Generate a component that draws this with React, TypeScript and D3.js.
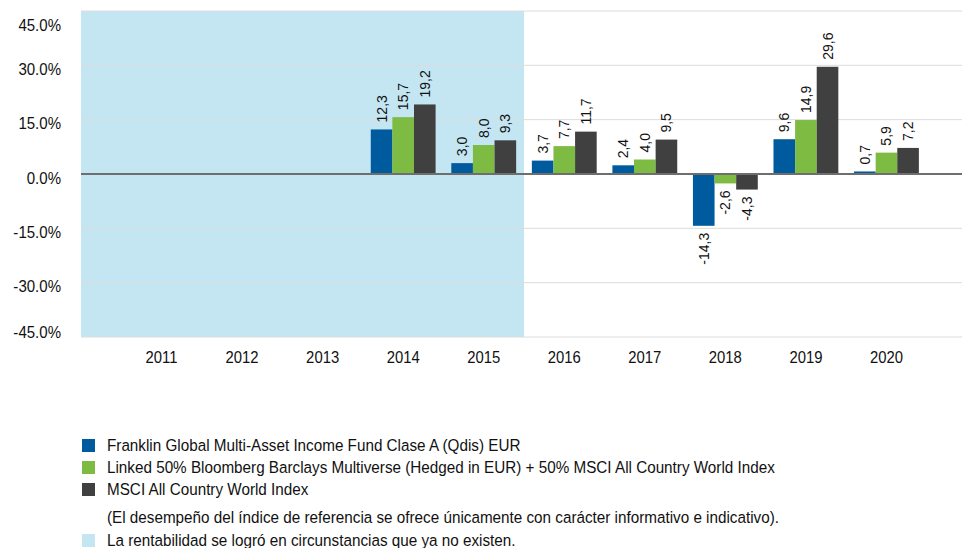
import React, { useEffect, useRef } from 'react';
import * as d3 from 'd3';

const years = ['2011', '2012', '2013', '2014', '2015', '2016', '2017', '2018', '2019', '2020'];
const fund = [null, null, null, 12.3, 3.0, 3.7, 2.4, -14.3, 9.6, 0.7];
const linked = [null, null, null, 15.7, 8.0, 7.7, 4.0, -2.6, 14.9, 5.9];
const msci = [null, null, null, 19.2, 9.3, 11.7, 9.5, -4.3, 29.6, 7.2];
const yTicks = [45, 30, 15, 0, -15, -30, -45];
const seriesNames = [
  'Franklin Global Multi-Asset Income Fund Clase A (Qdis) EUR',
  'Linked 50% Bloomberg Barclays Multiverse (Hedged in EUR) + 50% MSCI All Country World Index',
  'MSCI All Country World Index',
];
const shadedYears = ['2011', '2012', '2013', '2014', '2015'];
const note = '(El desempeño del índice de referencia se ofrece únicamente con carácter informativo e indicativo).';
const shadeNote = 'La rentabilidad se logró en circunstancias que ya no existen.';

const colors = ['#005A9E', '#7DBB42', '#404040'];
const shadeColor = '#C4E6F2';

export default function App() {
  const ref = useRef<SVGSVGElement>(null);

  useEffect(() => {
    const svg = d3.select(ref.current);
    svg.selectAll('*').remove();
    const font = 'Liberation Sans, Arial, sans-serif';
    const left = 81, right = 967, top = 11, bottom = 337;

    const x = d3.scaleBand().domain(years).range([left, right]).paddingInner(0).paddingOuter(0.5);
    const y = d3.scaleLinear().domain([-45, 45]).range([bottom, top]);
    const groupW = x.step() * 0.805;
    const names = ['fund', 'linked', 'msci'];
    const x1 = d3.scaleBand().domain(names).range([0, groupW]);
    const series = [fund, linked, msci];

    // zona sombreada
    const last = shadedYears[shadedYears.length - 1];
    svg.append('rect')
      .attr('x', left).attr('y', top)
      .attr('width', (x(last) as number) + x.bandwidth() - left)
      .attr('height', bottom - top)
      .attr('fill', shadeColor);

    // grid
    svg.append('g').selectAll('line').data(yTicks.filter(d => d !== 0)).enter().append('line')
      .attr('x1', left).attr('x2', right)
      .attr('y1', d => y(d)).attr('y2', d => y(d))
      .attr('stroke', '#dcdcdc').attr('stroke-width', 1);

    // eje y
    svg.append('g').selectAll('text').data(yTicks).enter().append('text')
      .attr('transform', d => `translate(61,${Math.min(Math.max(y(d) + 4, top + 14), bottom - 5)}) scale(0.94,1)`)
      .attr('dominant-baseline', 'central')
      .attr('text-anchor', 'end')
      .attr('font-family', font).attr('font-size', 16).attr('fill', '#111')
      .text(d => d.toFixed(1) + '%');

    // barras
    series.forEach((vals, si) => {
      const g = svg.append('g');
      const data = years.map((yr, i) => ({ yr, v: vals[i] })).filter(d => d.v !== null) as { yr: string; v: number }[];
      const bx = (d: { yr: string }) => (x(d.yr) as number) + (x.bandwidth() - groupW) / 2 + (x1(names[si]) as number);
      g.selectAll('rect').data(data).enter().append('rect')
        .attr('x', bx)
        .attr('width', x1.bandwidth())
        .attr('y', d => y(Math.max(0, d.v)))
        .attr('height', d => Math.abs(y(d.v) - y(0)))
        .attr('fill', colors[si]);
      g.selectAll('text').data(data).enter().append('text')
        .attr('transform', d => {
          const cx = bx(d) + x1.bandwidth() / 2;
          const cy = d.v >= 0 ? y(d.v) - 7 : y(d.v) + 7;
          return `translate(${cx},${cy}) rotate(-90)`;
        })
        .attr('text-anchor', d => (d.v >= 0 ? 'start' : 'end'))
        .attr('dominant-baseline', 'central')
        .attr('font-family', font).attr('font-size', 14).attr('fill', '#111')
        .text(d => d.v.toFixed(1).replace('.', ','));
    });

    // linea cero
    svg.append('line')
      .attr('x1', left).attr('x2', right)
      .attr('y1', y(0)).attr('y2', y(0))
      .attr('stroke', '#6e6e6e').attr('stroke-width', 2);

    // eje x
    svg.append('g').selectAll('text').data(years).enter().append('text')
      .attr('transform', d => `translate(${(x(d) as number) + x.bandwidth() / 2},357) scale(0.9,1)`)
      .attr('dominant-baseline', 'central')
      .attr('text-anchor', 'middle')
      .attr('font-family', font).attr('font-size', 16.5).attr('fill', '#111')
      .text(d => d);

    // leyenda
    const lg = svg.append('g');
    const rows = [
      ...seriesNames.map((n, i) => ({ n, c: colors[i] as string | null, yc: 445.5 + i * 22 })),
      { n: note, c: null, yc: 517 },
      { n: shadeNote, c: shadeColor, yc: 540.5 },
    ];
    rows.forEach(r => {
      if (r.c) {
        lg.append('rect').attr('x', 82).attr('y', r.yc - 6.5).attr('width', 13).attr('height', 13).attr('fill', r.c);
      }
      lg.append('text')
        .attr('transform', `translate(107,${r.yc}) scale(0.925,1)`)
        .attr('dominant-baseline', 'central')
        .attr('font-family', font).attr('font-size', 16.5).attr('fill', '#111')
        .text(r.n);
    });
  }, []);

  return (
    <svg ref={ref} width={962} height={548} style={{ position: 'absolute', left: 0, top: 0, background: '#fff' }} />
  );
}
